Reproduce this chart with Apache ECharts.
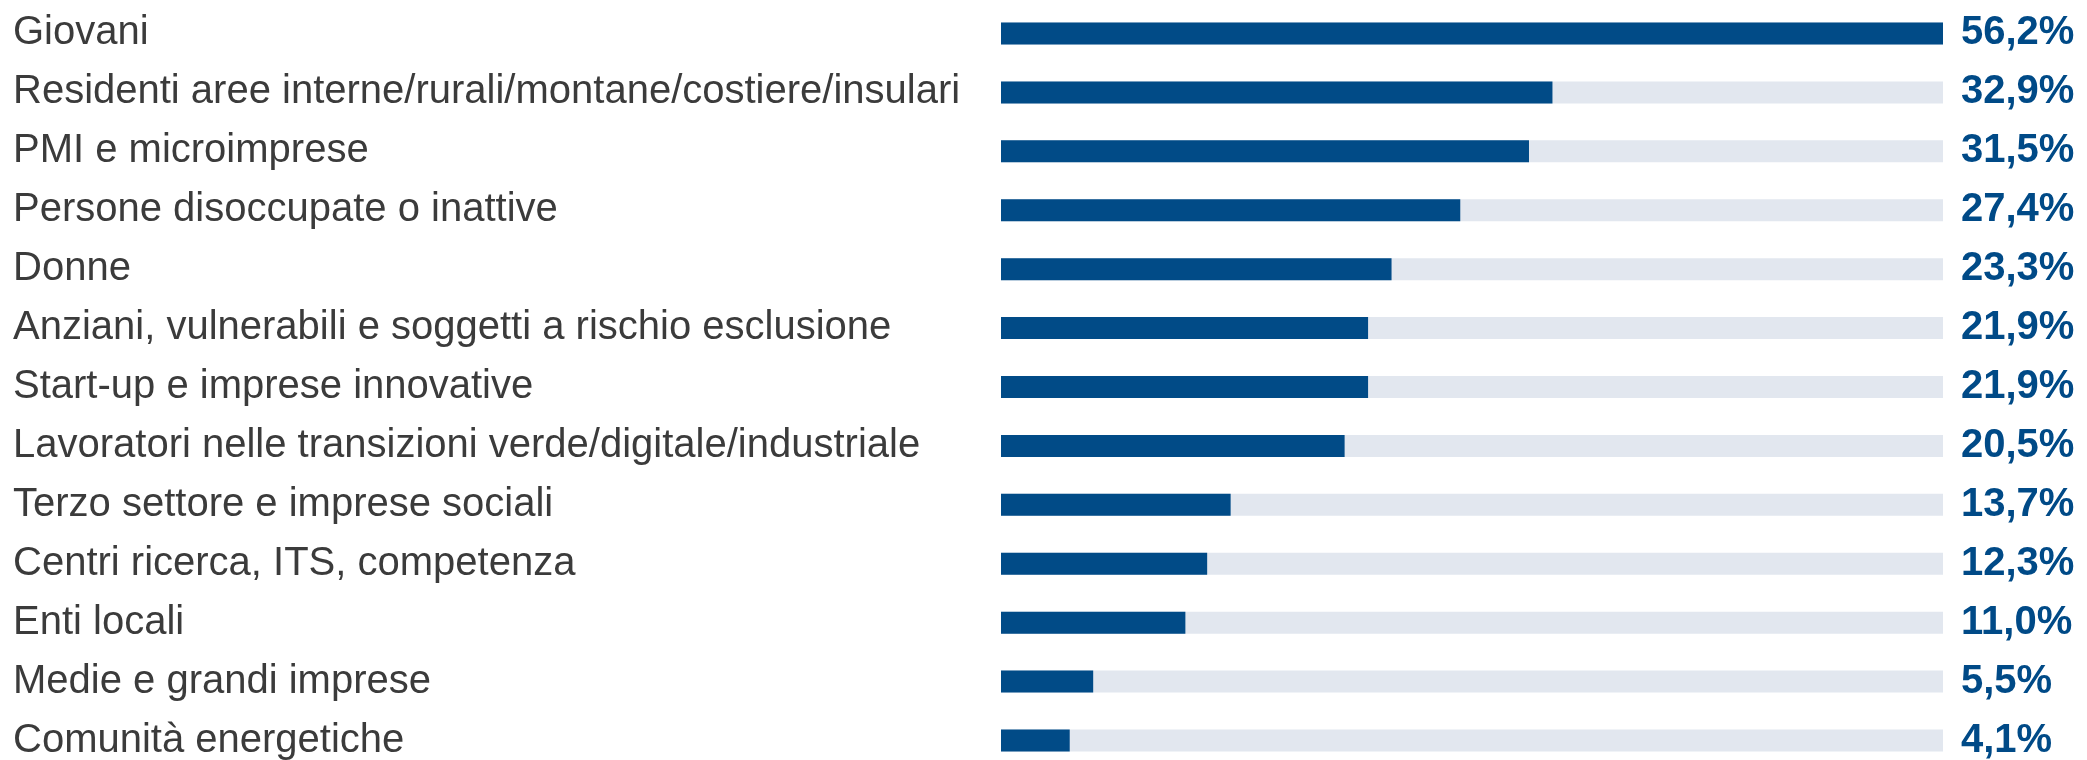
<!DOCTYPE html>
<html>
<head>
<meta charset="utf-8">
<script src="https://cdn.jsdelivr.net/npm/echarts@6/dist/echarts.min.js"></script>
<style>
  html, body { margin: 0; padding: 0; background: #fff; }
  #chart { width: 2087px; height: 760px; }
</style>
</head>
<body>
<div id="chart"></div>
<script>
var categories = [
  'Giovani',
  'Residenti aree interne/rurali/montane/costiere/insulari',
  'PMI e microimprese',
  'Persone disoccupate o inattive',
  'Donne',
  'Anziani, vulnerabili e soggetti a rischio esclusione',
  'Start-up e imprese innovative',
  'Lavoratori nelle transizioni verde/digitale/industriale',
  'Terzo settore e imprese sociali',
  'Centri ricerca, ITS, competenza',
  'Enti locali',
  'Medie e grandi imprese',
  'Comunità energetiche'
]
var values = [56.2, 32.9, 31.5, 27.4, 23.3, 21.9, 21.9, 20.5, 13.7, 12.3, 11.0, 5.5, 4.1]

// etichette a destra: 56,2%
var valueLabels = values.map(function (v) {
  return v.toFixed(1).replace('.', ',') + '%'
})

var chart = echarts.init(document.getElementById('chart'))
chart.setOption({
  animation: false,
  grid: {
    left: 1001,
    width: 942,
    top: 4,
    height: 766,
    containLabel: false,
    outerBoundsMode: 'none'
  },
  xAxis: {
    type: 'value',
    min: 0,
    max: 56.2,
    show: false
  },
  yAxis: [{
    type: 'category',
    data: categories,
    inverse: true,
    axisLine: { show: false },
    axisTick: { show: false },
    axisLabel: {
      align: 'left',
      margin: 988,
      color: '#3b3b3b',
      fontFamily: 'Liberation Sans',
      fontSize: 40
    }
  }, {
    type: 'category',
    data: valueLabels,
    inverse: true,
    position: 'right',
    axisLine: { show: false },
    axisTick: { show: false },
    axisLabel: {
      align: 'left',
      margin: 18,
      color: '#004a87',
      fontFamily: 'Liberation Sans',
      fontWeight: 'bold',
      fontSize: 40
    }
  }],
  series: [{
    type: 'bar',
    data: values,
    barWidth: 22,
    itemStyle: { color: '#014b87' },
    showBackground: true,
    backgroundStyle: { color: '#e2e7ef' }
  }]
})
</script>
</body>
</html>
